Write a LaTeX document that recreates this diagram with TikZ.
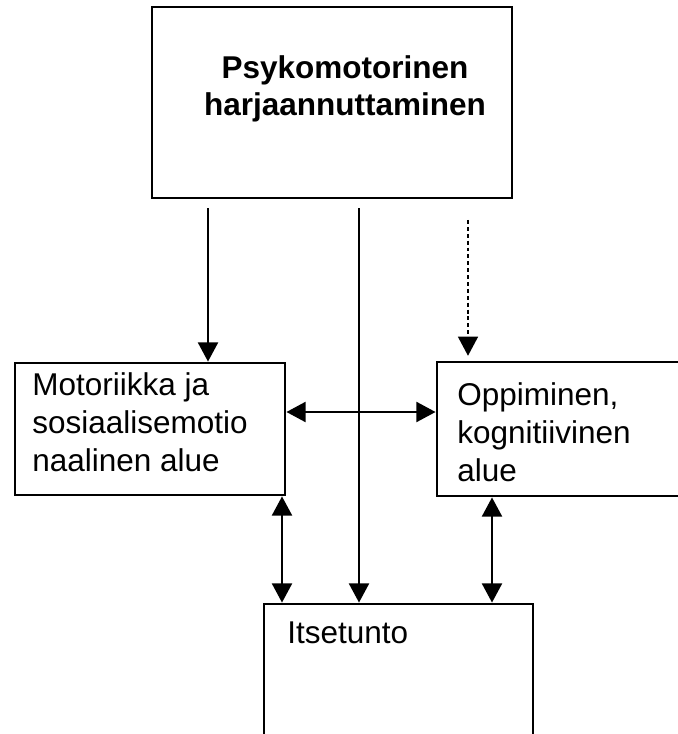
\documentclass[tikz,border=0pt]{standalone}
\usepackage{fontspec}
\setmainfont{Liberation Sans}
\usetikzlibrary{arrows.meta}
\begin{document}
\begin{tikzpicture}[x=0.025cm, y=-0.025cm,
    frame/.style={draw, line width=2pt, inner sep=0pt},
    boxtext/.style={inner sep=0pt, align=left, font=\fontsize{22.4}{27}\selectfont},
    arr/.style={line width=1.6pt, -{Triangle[length=0.48cm, width=0.5cm]}},
    biarr/.style={line width=1.6pt, {Triangle[length=0.48cm, width=0.5cm]}-{Triangle[length=0.48cm, width=0.5cm]}}]
  \useasboundingbox (0,0) rectangle (677,734);

  % boxes
  \node[frame, minimum width=9cm, minimum height=4.775cm] (psy) at (332,102.5) {};
  \node[frame, minimum width=6.75cm, minimum height=3.3cm] (motor) at (150,429) {};
  \node[frame, minimum width=7.575cm, minimum height=3.35cm] (opp) at (588.5,429) {};
  \node[frame, minimum width=6.725cm, minimum height=4.9cm] (itse) at (398.5,702) {};

  % texts (base = last line)
  \node[boxtext, align=center, anchor=base, font=\fontsize{22.4}{27}\selectfont\bfseries] (psytext) at (345,116) {Psykomotorinen\\harjaannuttaminen};
  \node[boxtext, anchor=base west] (motortext) at (32,471) {Motoriikka ja\\sosiaalisemotio\\naalinen alue};
  \node[boxtext, anchor=base west] (opptext) at (457,481) {Oppiminen,\\kognitiivinen\\alue};
  \node[boxtext, anchor=base west] (itsetext) at (287,643) {Itsetunto};

  % arrow positions
  \coordinate (xa) at (208,0);
  \coordinate (xm) at (359,0);
  \coordinate (xd) at (468,0);
  \coordinate (xl) at (282,0);
  \coordinate (xr) at (492,0);
  \coordinate (yh) at (0,412);
  \coordinate (dstart) at (468,220);

  % connectors
  \draw[arr, shorten <=0.22cm] (psy.south -| xa) -- (motor.north -| xa);
  \draw[arr, shorten <=0.22cm] (psy.south -| xm) -- (itse.north -| xm);
  \draw[arr, line width=1.3pt, dash pattern=on 2.8pt off 2.1pt, shorten >=0.12cm] (dstart) -- (opp.north -| xd);
  \draw[biarr] (motor.east |- yh) -- (opp.west |- yh);
  \draw[biarr] (motor.south -| xl) -- (itse.north -| xl);
  \draw[biarr] (opp.south -| xr) -- (itse.north -| xr);
\end{tikzpicture}
\end{document}
